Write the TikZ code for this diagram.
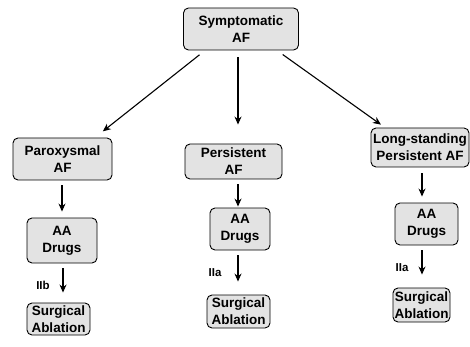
\documentclass[tikz,border=0pt]{standalone}
\usepackage{fontspec}
\setmainfont{Liberation Sans}
\usetikzlibrary{arrows.meta}
\begin{document}
\begin{tikzpicture}[x=1pt,y=-1pt,
  box/.style={draw=black,line width=0.9pt,rounded corners=5pt,fill=gray!22,
    align=center,inner sep=0pt,font=\fontsize{13.5}{17}\selectfont\bfseries},
  arr/.style={draw=black,line width=1.1pt,-{Stealth[length=8pt,width=7pt]}},
  lbl/.style={inner sep=0pt,font=\fontsize{11.5}{13}\selectfont\bfseries}]
\useasboundingbox[fill=white] (0,0) rectangle (470,347);
\node[box,minimum width=115pt,minimum height=42pt] (top) at (241,29) {Symptomatic\\AF};
\node[box,minimum width=99pt,minimum height=42pt] (par) at (62.5,159) {Paroxysmal\\AF};
\node[box,minimum width=97pt,minimum height=35pt] (per) at (233.5,161.5) {Persistent\\AF};
\node[box,minimum width=98pt,minimum height=39pt] (ls) at (420,147.5) {Long-standing\\Persistent AF};
\node[box,minimum width=70pt,minimum height=45pt] (aa1) at (62,240.5) {AA\\Drugs};
\node[box,minimum width=60pt,minimum height=42pt] (aa2) at (240,229) {AA\\Drugs};
\node[box,minimum width=63pt,minimum height=42pt] (aa3) at (426.5,224) {AA\\Drugs};
\node[box,minimum width=63pt,minimum height=32pt] (sa1) at (58.5,319) {Surgical\\Ablation};
\node[box,minimum width=63pt,minimum height=33pt] (sa2) at (238.5,311.5) {Surgical\\Ablation};
\node[box,minimum width=57pt,minimum height=34pt] (sa3) at (421.5,305) {Surgical\\Ablation};
\draw[arr,shorten <=7pt,shorten >=10pt] ([xshift=-36pt]top.south) -- ([xshift=32.5pt]par.north);
\draw[arr,shorten <=7pt,shorten >=19pt] ([xshift=-3pt]top.south) -- ([xshift=4.5pt]per.north);
\draw[arr,shorten <=7pt,shorten >=5pt] ([xshift=36pt]top.south) -- ([xshift=-35pt]ls.north);
\draw[arr,shorten <=5pt,shorten >=6pt] (par.south -| aa1.north) -- (aa1.north);
\draw[arr,shorten <=5pt,shorten >=1pt] ([xshift=-2pt]per.south -| aa2.north) -- ([xshift=-2pt]aa2.north);
\draw[arr,shorten <=6pt,shorten >=6pt] ([xshift=-4.5pt]ls.south -| aa3.north) -- ([xshift=-4.5pt]aa3.north);
\draw[arr,shorten <=5pt,shorten >=10pt] ([xshift=1pt]aa1.south) -- ([xshift=1pt]aa1.south |- sa1.north);
\draw[arr,shorten <=5pt,shorten >=13pt] ([xshift=-2pt]aa2.south) -- ([xshift=-2pt]aa2.south |- sa2.north);
\draw[arr,shorten <=5pt,shorten >=13pt] ([xshift=-4.5pt]aa3.south) -- ([xshift=-4.5pt]aa3.south |- sa3.north);
\node[lbl] (l1) at (43,285) {IIb};
\node[lbl] (l2) at (215,273) {IIa};
\node[lbl] (l3) at (402,268) {IIa};
\end{tikzpicture}
\end{document}
